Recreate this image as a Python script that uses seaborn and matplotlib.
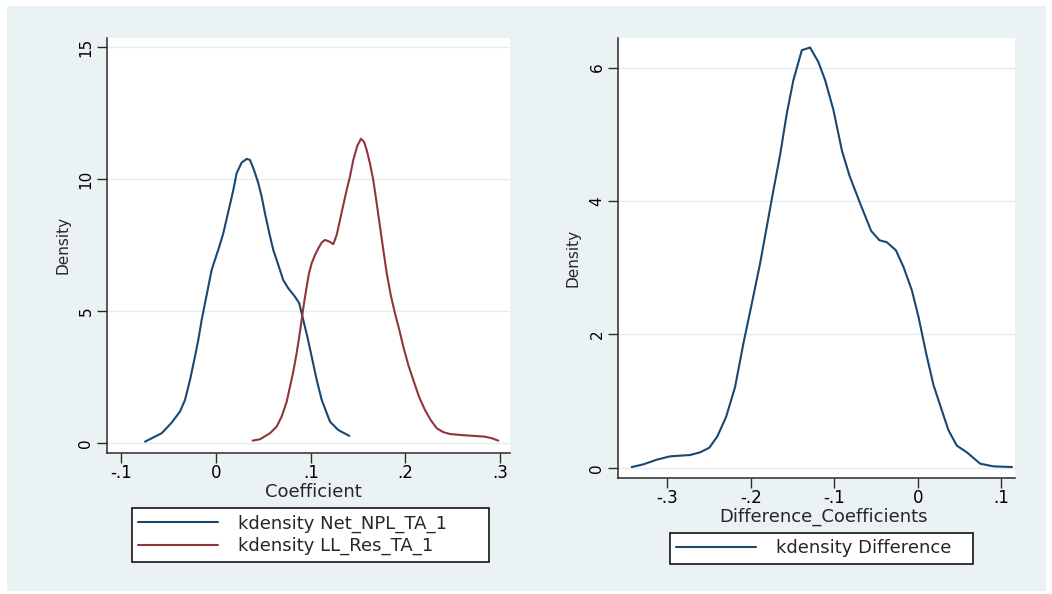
import matplotlib
matplotlib.use("Agg")
import matplotlib.pyplot as plt
from matplotlib.patches import Rectangle
import seaborn as sns
import pandas as pd

# ---------------- data ----------------
net_npl_x = [-0.0749, -0.0573, -0.0468, -0.038, -0.0327, -0.0274, -0.0222, -0.0187, -0.0151,
             -0.0116, -0.0081, -0.0046, 0.0035, 0.0077, 0.013, 0.0183, 0.0218, 0.0271, 0.0324,
             0.0359, 0.0401, 0.0447, 0.0482, 0.0517, 0.0563, 0.0605, 0.0658, 0.071, 0.0763,
             0.0834, 0.0879, 0.0921, 0.0964, 0.101, 0.1063, 0.1116, 0.1203, 0.1291, 0.1407]
net_npl_y = [0.05, 0.37, 0.77, 1.19, 1.63, 2.39, 3.27, 3.90, 4.66,
             5.29, 5.92, 6.55, 7.44, 7.94, 8.76, 9.58, 10.22, 10.62, 10.76,
             10.72, 10.34, 9.84, 9.33, 8.70, 7.94, 7.31, 6.74, 6.17, 5.86,
             5.54, 5.29, 4.66, 4.03, 3.27, 2.39, 1.63, 0.81, 0.49, 0.27]

ll_res_x = [0.0387, 0.0464, 0.057, 0.064, 0.0693, 0.0746, 0.0781, 0.0816, 0.0851, 0.0879,
            0.0904, 0.0929, 0.0957, 0.0982, 0.101, 0.1045, 0.108, 0.1115, 0.115, 0.1196,
            0.1238, 0.1274, 0.1309, 0.1344, 0.1379, 0.1414, 0.1449, 0.1491, 0.153, 0.1562,
            0.159, 0.1625, 0.166, 0.1696, 0.1731, 0.1766, 0.1802, 0.1844, 0.1889, 0.1935,
            0.1977, 0.203, 0.2082, 0.2143, 0.2206, 0.2266, 0.2329, 0.2399, 0.247, 0.2593,
            0.2716, 0.2839, 0.291, 0.298]
ll_res_y = [0.09, 0.14, 0.37, 0.62, 1.00, 1.56, 2.13, 2.70, 3.40, 4.03,
            4.66, 5.29, 5.92, 6.43, 6.81, 7.12, 7.37, 7.59, 7.69, 7.63,
            7.53, 7.88, 8.45, 9.02, 9.58, 10.09, 10.72, 11.25, 11.52, 11.41,
            11.10, 10.59, 9.96, 9.08, 8.19, 7.31, 6.43, 5.61, 4.91, 4.28,
            3.65, 2.95, 2.39, 1.75, 1.25, 0.87, 0.56, 0.41, 0.34, 0.30,
            0.27, 0.24, 0.18, 0.09]

diff_x = [-0.3425, -0.3286, -0.3126, -0.2966, -0.2847, -0.2727, -0.2607, -0.2496, -0.24,
          -0.2296, -0.2188, -0.2089, -0.1988, -0.1889, -0.1809, -0.1729, -0.1649, -0.1569,
          -0.149, -0.1389, -0.129, -0.119, -0.111, -0.101, -0.091, -0.0819, -0.069, -0.0559,
          -0.046, -0.0371, -0.0263, -0.0172, -0.0072, 0.0008, 0.01, 0.0187, 0.0287, 0.0367,
          0.0467, 0.0587, 0.0746, 0.0906, 0.1126]
diff_y = [0.01, 0.05, 0.12, 0.17, 0.18, 0.19, 0.23, 0.30, 0.47,
          0.76, 1.21, 1.86, 2.46, 3.06, 3.61, 4.16, 4.69, 5.31,
          5.81, 6.26, 6.30, 6.08, 5.81, 5.36, 4.76, 4.38, 3.96, 3.55,
          3.41, 3.38, 3.26, 3.01, 2.66, 2.26, 1.71, 1.24, 0.86, 0.56,
          0.33, 0.23, 0.06, 0.02, 0.01]

left_xticks = [-0.1, 0.0, 0.1, 0.2, 0.3]
left_xticklabels = ["-.1", "0", ".1", ".2", ".3"]
left_yticks = [0, 5, 10, 15]
right_xticks = [-0.3, -0.2, -0.1, 0.0, 0.1]
right_xticklabels = ["-.3", "-.2", "-.1", "0", ".1"]
right_yticks = [0, 2, 4, 6]

label_net = "kdensity Net_NPL_TA_1"
label_ll = "kdensity LL_Res_TA_1"
label_diff = "kdensity Difference"

# ---------------- styling ----------------
BLUE = "#1a476f"
RED = "#90353b"
BG = "#eaf2f3"
GRID = "#e4edef"
AXC = "#2b2b2b"

sns.set_theme(style="ticks")
plt.rcParams["font.family"] = ["DejaVu Sans"]

W, H = 1052, 594
fig = plt.figure(figsize=(W / 100, H / 100), dpi=100)
fig.patch.set_facecolor("white")
fig.add_artist(Rectangle((7 / W, 1 - 591 / H), (1046 - 7) / W, (591 - 6) / H,
                         transform=fig.transFigure, facecolor=BG, edgecolor="none", zorder=-10))


def px_axes(l, t, r, b):
    return fig.add_axes([l / W, 1 - b / H, (r - l) / W, (b - t) / H])


ax1 = px_axes(107.3, 37.7, 510, 453)
ax2 = px_axes(618.3, 37.5, 1014.5, 478.3)

df_net = pd.DataFrame({"x": net_npl_x, "y": net_npl_y})
df_ll = pd.DataFrame({"x": ll_res_x, "y": ll_res_y})
df_diff = pd.DataFrame({"x": diff_x, "y": diff_y})

sns.lineplot(data=df_net, x="x", y="y", ax=ax1, color=BLUE, lw=1.5,
             estimator=None, label=label_net)
sns.lineplot(data=df_ll, x="x", y="y", ax=ax1, color=RED, lw=1.5,
             estimator=None, label=label_ll)
sns.lineplot(data=df_diff, x="x", y="y", ax=ax2, color=BLUE, lw=1.5,
             estimator=None, label=label_diff)

ax1.set_xlim(-0.1147, 0.3103)
ax1.set_ylim(-0.379, 15.35)
ax2.set_xlim(-0.3586, 0.1157)
ax2.set_ylim(-0.159, 6.45)

ax1.set_xticks(left_xticks, left_xticklabels)
ax1.set_yticks(left_yticks, [str(v) for v in left_yticks])
ax2.set_xticks(right_xticks, right_xticklabels)
ax2.set_yticks(right_yticks, [str(v) for v in right_yticks])


def style(ax):
    ax.set_facecolor("white")
    for s in ["top", "right"]:
        ax.spines[s].set_visible(False)
    for s in ["left", "bottom"]:
        ax.spines[s].set_color(AXC)
        ax.spines[s].set_linewidth(1.1)
    ax.tick_params(axis="both", direction="out", length=7, width=1.0, color=AXC,
                   labelcolor="black", bottom=True, left=True)
    ax.tick_params(axis="x", labelsize=12, pad=1)
    ax.tick_params(axis="y", labelsize=11, labelrotation=90, pad=3)
    for lbl in ax.get_yticklabels():
        lbl.set_va("center")
    ax.yaxis.grid(True, color=GRID, lw=1.0)
    ax.xaxis.grid(False)
    ax.set_axisbelow(True)


style(ax1)
style(ax2)

ax1.set_xlabel("Coefficient", fontsize=13)
ax1.xaxis.set_label_coords(0.5116, (453 - 492) / (453 - 37.7))
ax1.xaxis.label.set_va("center")
ax1.set_ylabel("Density", fontsize=11)
ax1.yaxis.set_label_coords(-0.1112, 0.5)
ax1.yaxis.label.set_va("center")

ax2.set_xlabel("Difference_Coefficients", fontsize=13)
ax2.xaxis.set_label_coords(0.519, (478.3 - 517) / (478.3 - 37.5))
ax2.xaxis.label.set_va("center")
ax2.set_ylabel("Density", fontsize=11)
ax2.yaxis.set_label_coords(-0.1136, 0.5)
ax2.yaxis.label.set_va("center")


def make_legend(ax, l, t, r):
    h, lab = ax.get_legend_handles_labels()
    leg = ax.legend(h, lab, loc="upper left",
                    bbox_to_anchor=(l / W, 1 - t / H - 0.2, (r - l) / W, 0.2),
                    bbox_transform=fig.transFigure, mode="expand", borderaxespad=0,
                    frameon=True, fancybox=False, shadow=False, framealpha=1,
                    edgecolor="black", facecolor="white", fontsize=13,
                    handlelength=4.4, handletextpad=1.1, borderpad=0.35,
                    labelspacing=0.25)
    leg.get_frame().set_linewidth(1.1)
    for ln in leg.get_lines():
        ln.set_linewidth(1.5)
    return leg


make_legend(ax1, 132, 508, 489)
make_legend(ax2, 670, 533, 973)

fig.savefig("out.png", dpi=100, facecolor=fig.get_facecolor())
